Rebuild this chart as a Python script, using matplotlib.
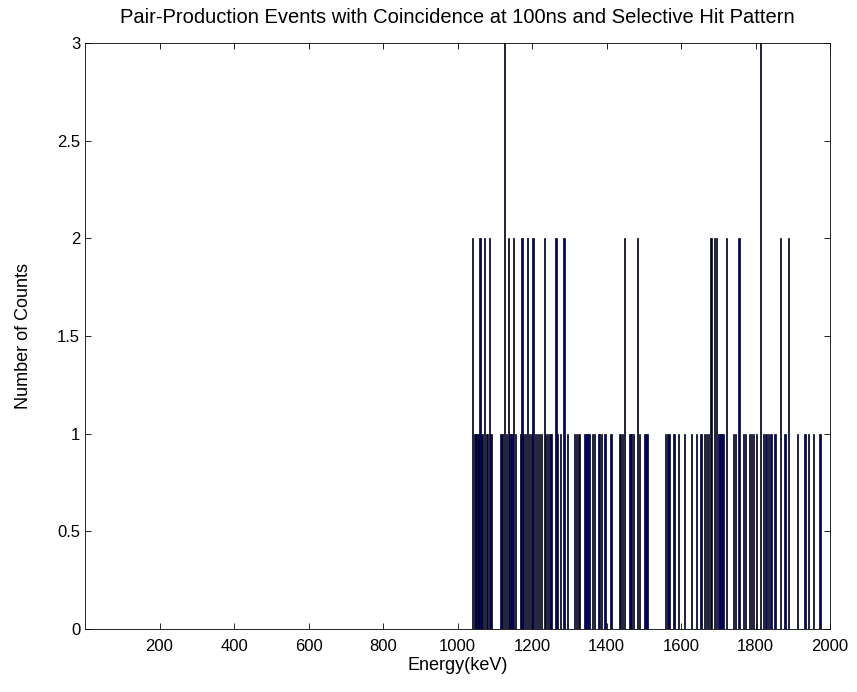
import matplotlib.pyplot as plt
from matplotlib.ticker import FuncFormatter

plt.rcParams['font.family'] = ['Liberation Sans', 'DejaVu Sans']

# bin centres (keV) and counts
energy = [1041, 1045, 1049, 1052, 1056, 1060, 1064, 1068, 1072, 1077, 1081, 1086, 1090,
          1117, 1121, 1127, 1131, 1136, 1141, 1146, 1150, 1155,
          1169, 1173, 1178, 1183, 1188, 1193, 1198, 1203,
          1210, 1215, 1221, 1226, 1233, 1237, 1242, 1248, 1253, 1264, 1269, 1276,
          1286, 1296, 1315, 1319, 1324, 1328, 1342, 1348, 1353, 1362, 1367, 1380,
          1387, 1396,
          1412, 1434, 1438, 1442, 1448, 1463, 1468, 1472, 1484, 1488, 1503, 1509,
          1559, 1563, 1568, 1581, 1593,
          1609, 1629, 1642, 1654, 1663, 1668, 1673, 1679, 1682, 1689, 1696, 1702,
          1707, 1713, 1723, 1740, 1747, 1756, 1767, 1774,
          1783, 1790, 1794, 1803, 1814, 1821, 1828, 1834, 1842, 1852, 1868, 1879,
          1888, 1913, 1933, 1942, 1955, 1973]
counts = [2, 1, 1, 1, 1, 2, 1, 1, 2, 1, 1, 2, 1,
          1, 1, 3, 1, 2, 1, 1, 2, 1,
          1, 2, 1, 1, 2, 1, 1, 2,
          1, 1, 1, 1, 2, 1, 1, 1, 1, 2, 1, 1,
          2, 1, 1, 1, 1, 1, 1, 1, 1, 1, 1, 1,
          1, 1,
          1, 1, 1, 1, 2, 1, 1, 1, 2, 1, 1, 1,
          1, 1, 1, 1, 1,
          1, 1, 1, 1, 1, 1, 1, 2, 2, 2, 2, 1,
          1, 1, 2, 1, 1, 2, 1, 1,
          1, 1, 1, 1, 3, 1, 1, 1, 1, 1, 2, 1,
          2, 1, 1, 1, 1, 1]

xticks = [200, 400, 600, 800, 1000, 1200, 1400, 1600, 1800, 2000]
yticks = [0, 0.5, 1, 1.5, 2, 2.5, 3]

fig = plt.figure(figsize=(8.57, 6.92), dpi=100)
ax = fig.add_axes([0.0992, 0.091, 0.8693, 0.847])

ax.bar(energy, counts, width=3.5, color='#000090', edgecolor='black', linewidth=0.5)

ax.set_xlim(0, 2000)
ax.set_ylim(0, 3)
ax.set_xticks(xticks)
ax.set_yticks(yticks)
ax.yaxis.set_major_formatter(FuncFormatter(lambda v, p: '%g' % v))
ax.tick_params(direction='in', top=True, right=True, labelsize=12, length=4, width=0.6)
ax.tick_params(axis='x', pad=7)
for s in ax.spines.values():
    s.set_linewidth(0.6)

ax.set_xlabel('Energy(keV)', fontsize=13, labelpad=2)
ax.set_ylabel('Number of Counts', fontsize=13, labelpad=18)
ax.set_title('Pair-Production Events with Coincidence at 100ns and Selective Hit Pattern',
             fontsize=14.5, pad=14)

fig.savefig('out.png', dpi=100)
